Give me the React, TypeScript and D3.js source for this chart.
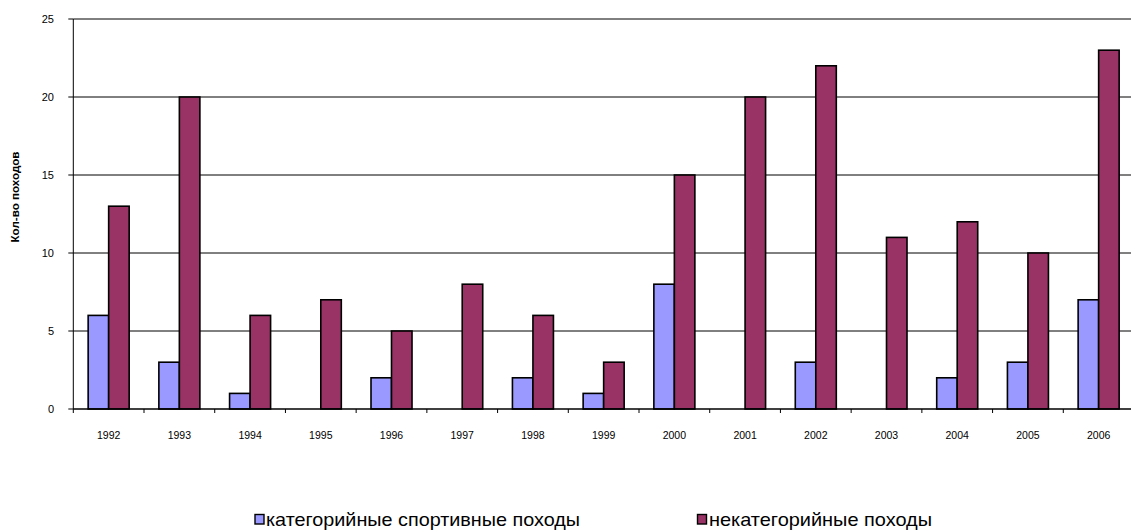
import React from "react";
import * as d3 from "d3";

const years = ["1992","1993","1994","1995","1996","1997","1998","1999","2000","2001","2002","2003","2004","2005","2006"];
const categorized = [6,3,1,0,2,0,2,1,8,0,3,0,2,3,7];
const uncategorized = [13,20,6,7,5,8,6,3,15,20,22,11,12,10,23];
const yTicks = [0,5,10,15,20,25];
const seriesNames = ["категорийные спортивные походы", "некатегорийные походы"];
const colors = ["#9999FF", "#993366"];

export default function App() {
  const W = 1131, H = 530;
  const left = 73.3, right = 1134, top = 19, bottom = 409;
  const x = d3.scaleBand().domain(years).range([left, right]).paddingInner(0).paddingOuter(0);
  const y = d3.scaleLinear().domain([0, 25]).range([bottom, top]);
  const bw = x.bandwidth();
  const barW = bw * 0.29;
  const series = [categorized, uncategorized];
  const font = "Arial, 'Liberation Sans', sans-serif";

  return (
    <svg width={W} height={H} style={{ position: "absolute", left: 0, top: 0, background: "#fff" }} fontFamily={font}>
      {yTicks.map(t => (
        <g key={t}>
          {t > 0 && <line x1={left} x2={W} y1={y(t)} y2={y(t)} stroke="#000" strokeWidth={1} />}
          <line x1={left - 5} x2={left} y1={y(t)} y2={y(t)} stroke="#000" strokeWidth={1} />
          <text x={54} y={y(t)} dy="0.35em" textAnchor="end" fontSize={11} fill="#000">{t}</text>
        </g>
      ))}
      {series.map((vals, si) =>
        years.map((yr, i) => {
          const v = vals[i];
          if (v <= 0) return null;
          const cx = (x(yr) as number) + bw / 2;
          const x0 = si === 0 ? cx - barW : cx;
          return (
            <rect key={si + "-" + yr} x={x0} y={y(v)} width={barW} height={y(0) - y(v)}
              fill={colors[si]} stroke="#000" strokeWidth={1.6} />
          );
        })
      )}
      <line x1={left} x2={left} y1={top} y2={bottom} stroke="#000" strokeWidth={1} />
      <line x1={left} x2={W} y1={bottom} y2={bottom} stroke="#000" strokeWidth={1.5} />
      {years.map(yr => (
        <line key={"t" + yr} x1={(x(yr) as number)} x2={(x(yr) as number)} y1={bottom} y2={bottom + 4} stroke="#000" strokeWidth={1} />
      ))}
      {years.map(yr => (
        <text key={"l" + yr} x={(x(yr) as number) + bw / 2} y={435} dy="0.35em" textAnchor="middle" fontSize={10.5} fill="#000">{yr}</text>
      ))}
      <text transform={`translate(15,197) rotate(-90)`} dy="0.35em" textAnchor="middle" fontSize={10} fontWeight="bold" fill="#000"
        textLength={91} lengthAdjust="spacingAndGlyphs">Кол-во походов</text>
      <g>
        <rect x={255} y={514.5} width={9} height={9.5} fill={colors[0]} stroke="#000" strokeWidth={1.4} />
        <text x={266} y={519.5} dy="0.35em" fontSize={18.5} fill="#000" textLength={314} lengthAdjust="spacingAndGlyphs">{seriesNames[0]}</text>
        <rect x={697.5} y={514.5} width={9} height={9.5} fill={colors[1]} stroke="#000" strokeWidth={1.4} />
        <text x={709} y={519.5} dy="0.35em" fontSize={18.5} fill="#000" textLength={223} lengthAdjust="spacingAndGlyphs">{seriesNames[1]}</text>
      </g>
    </svg>
  );
}
